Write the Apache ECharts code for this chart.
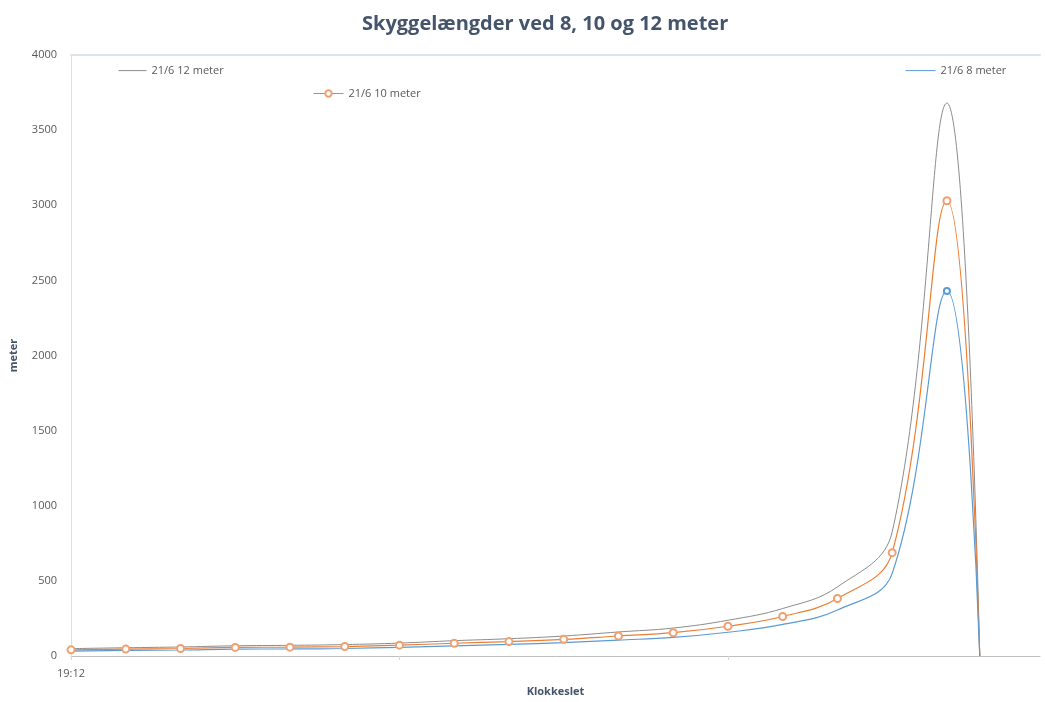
<!DOCTYPE html>
<html><head><meta charset="utf-8">
<script src="https://cdn.jsdelivr.net/npm/echarts@6/dist/echarts.min.js"></script>
<style>html,body{margin:0;padding:0;background:#fff}#c{width:1045px;height:702px}</style>
</head><body><div id="c"></div>
<script>
// minutes after 19:12
var minutes = [0,10,20,30,40,50,60,70,80,90,100,110,120,130,140,150,160,166];
var m12 = [49,55,60,68,71,76,86,102,115,133,160,186,238,316,460,826,3680,0];
var m10 = [41,46,50,57,59,63,72,85,96,111,133,155,198,263,383,688,3030,0];
var m8  = [33,37,40,46,47,50,58,68,77,89,106,124,158,210,306,550,2430,0];
var startLabel = '19:12';
var names = ['21/6 12 meter','21/6 10 meter','21/6 8 meter'];

var last = minutes.length - 1;
function pairs(v){ return minutes.map(function(m,i){
  var d = {value:[m, v[i]]};
  if (i === last) d.symbol = 'none';
  return d; }); }
var peakIdx = m8.indexOf(Math.max.apply(null, m8));
function bluePairs(v){ return minutes.map(function(m,i){
  var d = {value:[m, v[i]]};
  if (i === peakIdx) { d.symbol = 'emptyCircle'; d.symbolSize = 6; }
  return d; }); }
var txt = {color:'#595959', fontSize:11, fontFamily:'Open Sans'};
var chart = echarts.init(document.getElementById('c'));
chart.setOption({
  animation:false,
  backgroundColor:'#fff',
  title:{text:'Skyggelængder ved 8, 10 og 12 meter', left:357, top:9,
    textStyle:{fontFamily:'Open Sans', fontWeight:'bold', fontSize:20, color:'#44546a'}},
  legend:[
    {data:[names[0]], left:118, top:65, padding:0, itemWidth:28, itemHeight:14, itemGap:4, textStyle:txt,
      itemStyle:{opacity:0}, lineStyle:{width:1}},
    {data:[names[1]], left:313, top:88, padding:0, itemWidth:30, itemHeight:8, textStyle:txt,
      lineStyle:{width:1}, itemStyle:{borderWidth:1}},
    {data:[names[2]], left:905, top:65, padding:0, itemWidth:30, itemHeight:14, itemGap:3, textStyle:txt,
      itemStyle:{opacity:0}, lineStyle:{width:1}}
  ],
  grid:{left:67, right:5, top:55, bottom:35},
  xAxis:[{
    type:'value', min:0, max:177, interval:60,
    name:'Klokkeslet', nameLocation:'middle', nameGap:30,
    nameTextStyle:{fontFamily:'Open Sans', fontWeight:'bold', fontSize:11, color:'#44546a'},
    axisLine:{show:true, lineStyle:{color:'#bfbfbf'}},
    axisTick:{show:true, length:4, lineStyle:{color:'#d9d9d9'}},
    axisLabel:Object.assign({margin:12, showMaxLabel:false, formatter:function(v){ return v===0 ? startLabel : ''; }}, txt),
    splitLine:{show:false}
  },{
    type:'value', position:'top', min:0, max:177,
    axisLine:{show:true, onZero:false, lineStyle:{color:'#dde3ea', width:2}},
    axisTick:{show:false}, axisLabel:{show:false}, splitLine:{show:false}
  }],
  yAxis:{
    type:'value', min:0, max:4000, interval:500,
    name:'meter', nameLocation:'middle', nameGap:52, nameRotate:90,
    nameTextStyle:{fontFamily:'Open Sans', fontWeight:'bold', fontSize:11, color:'#44546a'},
    axisLine:{show:true, lineStyle:{color:'#e0e0e0'}},
    axisTick:{show:false},
    axisLabel:Object.assign({margin:14, formatter:function(v){ return String(v); }}, txt),
    splitLine:{show:false}
  },
  series:[
    {name:names[0], type:'line', data:pairs(m12), smooth:0.4, symbol:'none',
      lineStyle:{color:'#8c8c8c', width:1}, itemStyle:{color:'#8c8c8c'}},
    {name:names[1], type:'line', data:pairs(m10), smooth:0.4, symbol:'emptyCircle', symbolSize:7,
      lineStyle:{color:'#ed7d31', width:1.2}, itemStyle:{color:'#f0a070', borderWidth:1}},
    {name:names[2], type:'line', data:bluePairs(m8), smooth:0.4, symbol:'none',
      lineStyle:{color:'#5b9bd5', width:1.2}, itemStyle:{color:'#5b9bd5', borderWidth:1}}
  ]
});
</script></body></html>
